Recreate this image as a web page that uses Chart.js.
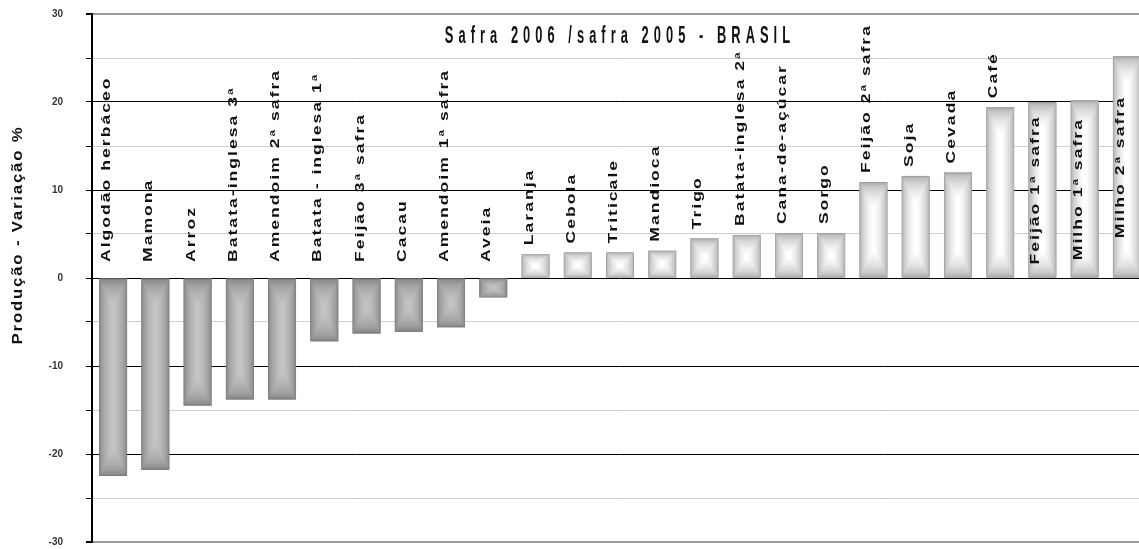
<!DOCTYPE html>
<html lang="pt">
<head>
  <meta charset="UTF-8" />
  <title>Safra 2006 / safra 2005 - BRASIL</title>
  <script src="https://cdn.jsdelivr.net/npm/chart.js"></script>
  <style>
    body {
      margin: 0;
      padding: 0;
      background: #fff;
      overflow: hidden;
    }

    .wrap {
      width: 1150px;
      height: 549px;
      position: relative;
    }
  </style>
</head>
<body>

  <div class="wrap">
    <canvas id="safraChart"></canvas>
  </div>

  <script>
    const chartTitle = "Safra 2006 /safra 2005 - BRASIL";
    const axisTitle = "Produção - Variação %";

    const crops = [
      "Algodão herbáceo", "Mamona", "Arroz", "Batata-inglesa 3ª", "Amendoim 2ª safra",
      "Batata - inglesa 1ª", "Feijão 3ª safra", "Cacau", "Amendoim 1ª safra", "Aveia",
      "Laranja", "Cebola", "Triticale", "Mandioca", "Trigo",
      "Batata-inglesa 2ª", "Cana-de-açúcar", "Sorgo", "Feijão 2ª safra", "Soja",
      "Cevada", "Café", "Feijão 1ª safra", "Milho 1ª safra", "Milho 2ª safra"
    ];

    // variação % da produção
    const variation = [
      -22.5, -21.8, -14.5, -13.8, -13.8,
      -7.2, -6.3, -6.1, -5.6, -2.2,
      2.7, 2.9, 2.9, 3.1, 4.5,
      4.9, 5.1, 5.1, 10.9, 11.6,
      12.0, 19.4, 20.0, 20.2, 25.2
    ];

    const yMin = -30;
    const yMax = 30;
    const yStep = 5;

    const labelFont = "bold 13px 'Liberation Sans', Arial, sans-serif";

    function drawText(ctx, text, x, y, o) {
      ctx.save();
      ctx.translate(x, y);
      if (o.rotate) ctx.rotate(o.rotate);
      ctx.scale(o.sx || 1, 1);
      ctx.font = o.font;
      ctx.fillStyle = o.color || "#111";
      ctx.textAlign = o.align || "left";
      ctx.textBaseline = o.baseline || "alphabetic";
      if ("letterSpacing" in ctx) ctx.letterSpacing = (o.spacing || 0) + "px";
      ctx.fillText(text, 0, 0);
      ctx.restore();
    }

    function textLen(ctx, text, o) {
      ctx.save();
      ctx.font = o.font;
      if ("letterSpacing" in ctx) ctx.letterSpacing = (o.spacing || 0) + "px";
      const w = ctx.measureText(text).width * (o.sx || 1);
      ctx.restore();
      return w;
    }

    // the rectangular "bevel" gradient of the old spreadsheet bars
    function shadeBar(ctx, el, v) {
      const left = el.x - el.width / 2;
      const top = Math.min(el.y, el.base);
      const w = el.width;
      const h = Math.abs(el.base - el.y);
      const outer = v < 0 ? [124, 124, 124] : [160, 160, 160];
      const inner = v < 0 ? [196, 196, 196] : [255, 255, 255];
      const n = 24;
      const mx = w * 0.44;
      const my = Math.min(h * 0.44, w * 0.9);
      for (let k = 0; k <= n; k++) {
        const t = k / n;
        const e = Math.sqrt(t);
        const c = outer.map((o, i) => Math.round(o + (inner[i] - o) * e));
        ctx.fillStyle = `rgb(${c.join(",")})`;
        ctx.fillRect(left + mx * t, top + my * t, w - 2 * mx * t, h - 2 * my * t);
      }
    }

    const decorations = {
      id: "decorations",
      afterDatasetsDraw(chart) {
        const ctx = chart.ctx;
        const area = chart.chartArea;
        const meta = chart.getDatasetMeta(0);
        const zero = chart.scales.y.getPixelForValue(0);

        meta.data.forEach((el, i) => shadeBar(ctx, el, variation[i]));

        const lo = { font: labelFont, sx: 1.35, spacing: 1.5, rotate: -Math.PI / 2, color: "#111" };
        meta.data.forEach((el, i) => {
          const v = variation[i];
          const len = textLen(ctx, crops[i], lo);
          let start;
          if (v < 0) {
            start = zero - 16;
          } else if (el.y - 9 - len >= area.top) {
            start = el.y - 9;
          } else {
            start = (el.y + zero) / 2 + len / 2;
          }
          drawText(ctx, crops[i], el.x - 3, start, lo);
        });

        drawText(ctx, chartTitle, (area.left + area.right) / 2, 43, {
          font: "bold 23px 'Liberation Sans', Arial, sans-serif",
          sx: 0.56, spacing: 9, align: "center", color: "#111"
        });

        drawText(ctx, axisTitle, 22, 235, {
          font: "bold 14px 'Liberation Sans', Arial, sans-serif",
          sx: 1.2, spacing: 1.5, align: "center", rotate: -Math.PI / 2, color: "#111"
        });
      }
    };

    new Chart(document.getElementById("safraChart"), {
      type: "bar",
      data: {
        labels: crops,
        datasets: [{
          data: variation,
          backgroundColor: variation.map(v => v < 0 ? "#7c7c7c" : "#a0a0a0"),
          borderWidth: 0,
          barPercentage: 0.66,
          categoryPercentage: 1
        }]
      },
      options: {
        responsive: true,
        maintainAspectRatio: false,
        animation: false,
        layout: {
          padding: { top: 14, bottom: 7, right: 2, left: 0 }
        },
        plugins: {
          legend: { display: false },
          tooltip: { enabled: false },
          title: { display: false }
        },
        scales: {
          x: {
            display: false
          },
          y: {
            min: yMin,
            max: yMax,
            afterFit(scale) {
              scale.width = 92;
              scale.paddingTop = 0;
              scale.paddingBottom = 0;
            },
            ticks: {
              stepSize: yStep,
              padding: 23,
              color: "#333",
              font: { family: "'Liberation Sans', Arial, sans-serif", size: 10, weight: "bold" },
              callback: v => (v % 10 === 0 ? String(v) : "")
            },
            grid: {
              color: c => {
                const v = c.tick ? c.tick.value : 0;
                if (Math.abs(v) === 30) return "#9a9a9a";
                return v % 10 === 0 ? "#000" : "#cfcfcf";
              },
              lineWidth: c => (c.tick && Math.abs(c.tick.value) === 30 ? 2 : 1),
              tickColor: "#000",
              tickLength: 6
            },
            border: {
              display: true,
              color: "#000",
              width: 2
            }
          }
        }
      },
      plugins: [decorations]
    });
  </script>
</body>
</html>
